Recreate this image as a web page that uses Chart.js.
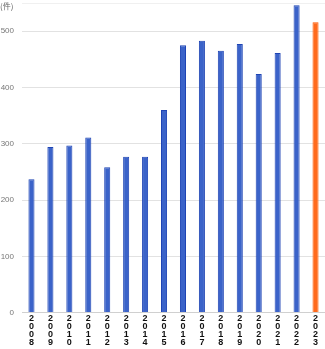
<!DOCTYPE html>
<html>
<head>
    <title>件数の推移</title>
    <script src="https://cdn.jsdelivr.net/npm/chart.js"></script>
    <style>
        body {
            margin: 0;
            background-color: #fff;
            font-family: "Noto Sans CJK JP", "Noto Sans", sans-serif;
        }

        #wrap {
            position: relative;
            width: 325px;
            height: 349px;
        }

        #unit {
            position: absolute;
            left: 0;
            top: 0;
            font-size: 8px;
            color: #666;
        }
    </style>
</head>
<body>
<div id="wrap">
    <canvas id="chart"></canvas>
    <div id="unit">(件)</div>
</div>

<script>
    const years = ["2008", "2009", "2010", "2011", "2012", "2013", "2014", "2015",
        "2016", "2017", "2018", "2019", "2020", "2021", "2022", "2023"];
    const counts = [237, 294, 297, 311, 258, 277, 277, 360,
        475, 483, 465, 477, 424, 461, 546, 516];
    const yTicks = [0, 100, 200, 300, 400, 500];

    // last year highlighted in orange
    const fills = years.map((y, i) => i === years.length - 1 ? "#ff6a1c" : "#3b63c9");
    const borders = years.map((y, i) => i === years.length - 1 ? "#ff5a00" : "#1e44b4");

    new Chart(document.getElementById("chart"), {
        type: "bar",
        data: {
            // vertical labels: one digit per line
            labels: years.map(y => y.split("")),
            datasets: [{
                data: counts,
                backgroundColor: fills,
                borderColor: borders,
                borderWidth: 1,
                barPercentage: 0.32,
                categoryPercentage: 1
            }]
        },
        options: {
            responsive: true,
            maintainAspectRatio: false,
            animation: false,
            layout: {
                padding: { top: 3, left: 0, right: 0, bottom: 0 }
            },
            plugins: {
                legend: { display: false },
                tooltip: { enabled: false }
            },
            scales: {
                x: {
                    grid: { display: false, drawTicks: false },
                    border: { color: "#d0d0d0" },
                    ticks: {
                        color: "#111",
                        font: { size: 9, weight: "bold", lineHeight: 0.9 },
                        maxRotation: 0,
                        autoSkip: false,
                        padding: 2
                    }
                },
                y: {
                    min: 0,
                    max: 550,
                    afterBuildTicks: axis => {
                        axis.ticks = yTicks.concat([550]).map(v => ({ value: v }));
                    },
                    afterFit: axis => {
                        axis.width = 22;
                        axis.paddingTop = 0;
                    },
                    grid: {
                        color: ctx => ctx.tick && ctx.tick.value === 550 ? "#f0f0f0" : "#e2e2e2",
                        drawTicks: false
                    },
                    border: { display: false },
                    ticks: {
                        color: "#777",
                        font: { size: 8 },
                        padding: 8,
                        callback: v => yTicks.includes(v) ? v : ""
                    }
                }
            }
        }
    });
</script>
</body>
</html>
